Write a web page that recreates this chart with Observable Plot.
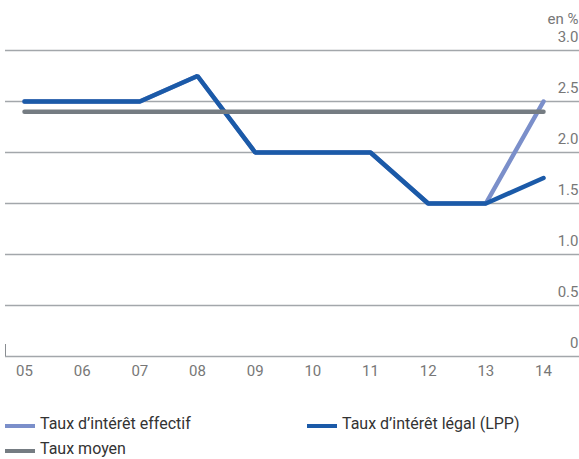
<!DOCTYPE html>
<html><head><meta charset="utf-8">
<script src="https://cdn.jsdelivr.net/npm/d3@7"></script>
<script src="https://cdn.jsdelivr.net/npm/@observablehq/plot@0.6"></script>
<style>
body{margin:0;background:#fff;font-family:Roboto,"Liberation Sans",sans-serif;}
#legend{display:grid;grid-template-columns:302px 270px;row-gap:5px;margin-left:5px;margin-top:28px;font-size:16px;color:#333;}
.item{display:flex;align-items:center;height:20px;}
.sw{width:30px;height:4px;margin-right:5px;display:inline-block;position:relative;top:3px;}
</style></head>
<body>
<div id="chart"></div>
<div id="legend"></div>
<script>
const years = [2005,2006,2007,2008,2009,2010,2011,2012,2013,2014];
const tauxLPP = [2.5,2.5,2.5,2.75,2.0,2.0,2.0,1.5,1.5,1.75];
const tauxEffectif = [2.5,2.5,2.5,2.75,2.0,2.0,2.0,1.5,1.5,2.5];
const tauxMoyen = [2.4,2.4,2.4,2.4,2.4,2.4,2.4,2.4,2.4,2.4];
const yTicks = [0,0.5,1.0,1.5,2.0,2.5,3.0];
const series = ["Taux d’intérêt effectif","Taux d’intérêt légal (LPP)","Taux moyen"];
const colors = ["#7b8fca","#1b5aa8","#757c82"];

const rows = [];
years.forEach((y,i)=>{ rows.push({year:y,value:tauxEffectif[i],s:series[0]}); });
years.forEach((y,i)=>{ rows.push({year:y,value:tauxLPP[i],s:series[1]}); });
years.forEach((y,i)=>{ rows.push({year:y,value:tauxMoyen[i],s:series[2]}); });

const leftTick = (index, scales, values, dims) => {
  const g = d3.create("svg:g");
  g.append("line").attr("x1", dims.marginLeft+0.5).attr("x2", dims.marginLeft+0.5)
   .attr("y1", scales.y(0)).attr("y2", scales.y(0)-12)
   .attr("stroke","#8a8e92").attr("stroke-width",1);
  return g.node();
};

const plot = Plot.plot({
  width: 579,
  height: 385,
  marginLeft: 5,
  marginRight: 0,
  marginTop: 50,
  marginBottom: 29,
  style: {fontFamily: "Roboto, sans-serif", fontSize: "15px", color: "#777"},
  x: {domain: [2005, 2014], range: [24, 543], axis: null},
  y: {domain: [0, 3], axis: null},
  color: {domain: series, range: colors},
  marks: [
    Plot.ruleY(yTicks, {stroke: "#a3a7ab", strokeWidth: 1.3}),
    leftTick,
    Plot.text(yTicks, {y: d=>d, frameAnchor: "right", textAnchor: "end", dx: -1, dy: -13, text: d=>d===0?"0":d.toFixed(1), fill: "#777", fontSize: 15}),
    Plot.text(["en %"], {frameAnchor: "top-right", dy: -37, dx: -1, textAnchor: "end", fill: "#777", fontSize: 15}),
    Plot.text(years, {x: d=>d, y: 0, dy: 15, text: d=>String(d%100).padStart(2,"0"), fill: "#777", fontSize: 15}),
    Plot.line(rows, {x: "year", y: "value", z: "s", stroke: "s", strokeWidth: 4.5, strokeLinecap: "round", strokeLinejoin: "miter"})
  ]
});
document.getElementById("chart").append(plot);

const legend = document.getElementById("legend");
series.forEach((s,i)=>{
  const d = document.createElement("div");
  d.className = "item";
  d.innerHTML = `<span class="sw" style="background:${colors[i]}"></span><span>${s}</span>`;
  legend.append(d);
});
</script>
</body></html>
